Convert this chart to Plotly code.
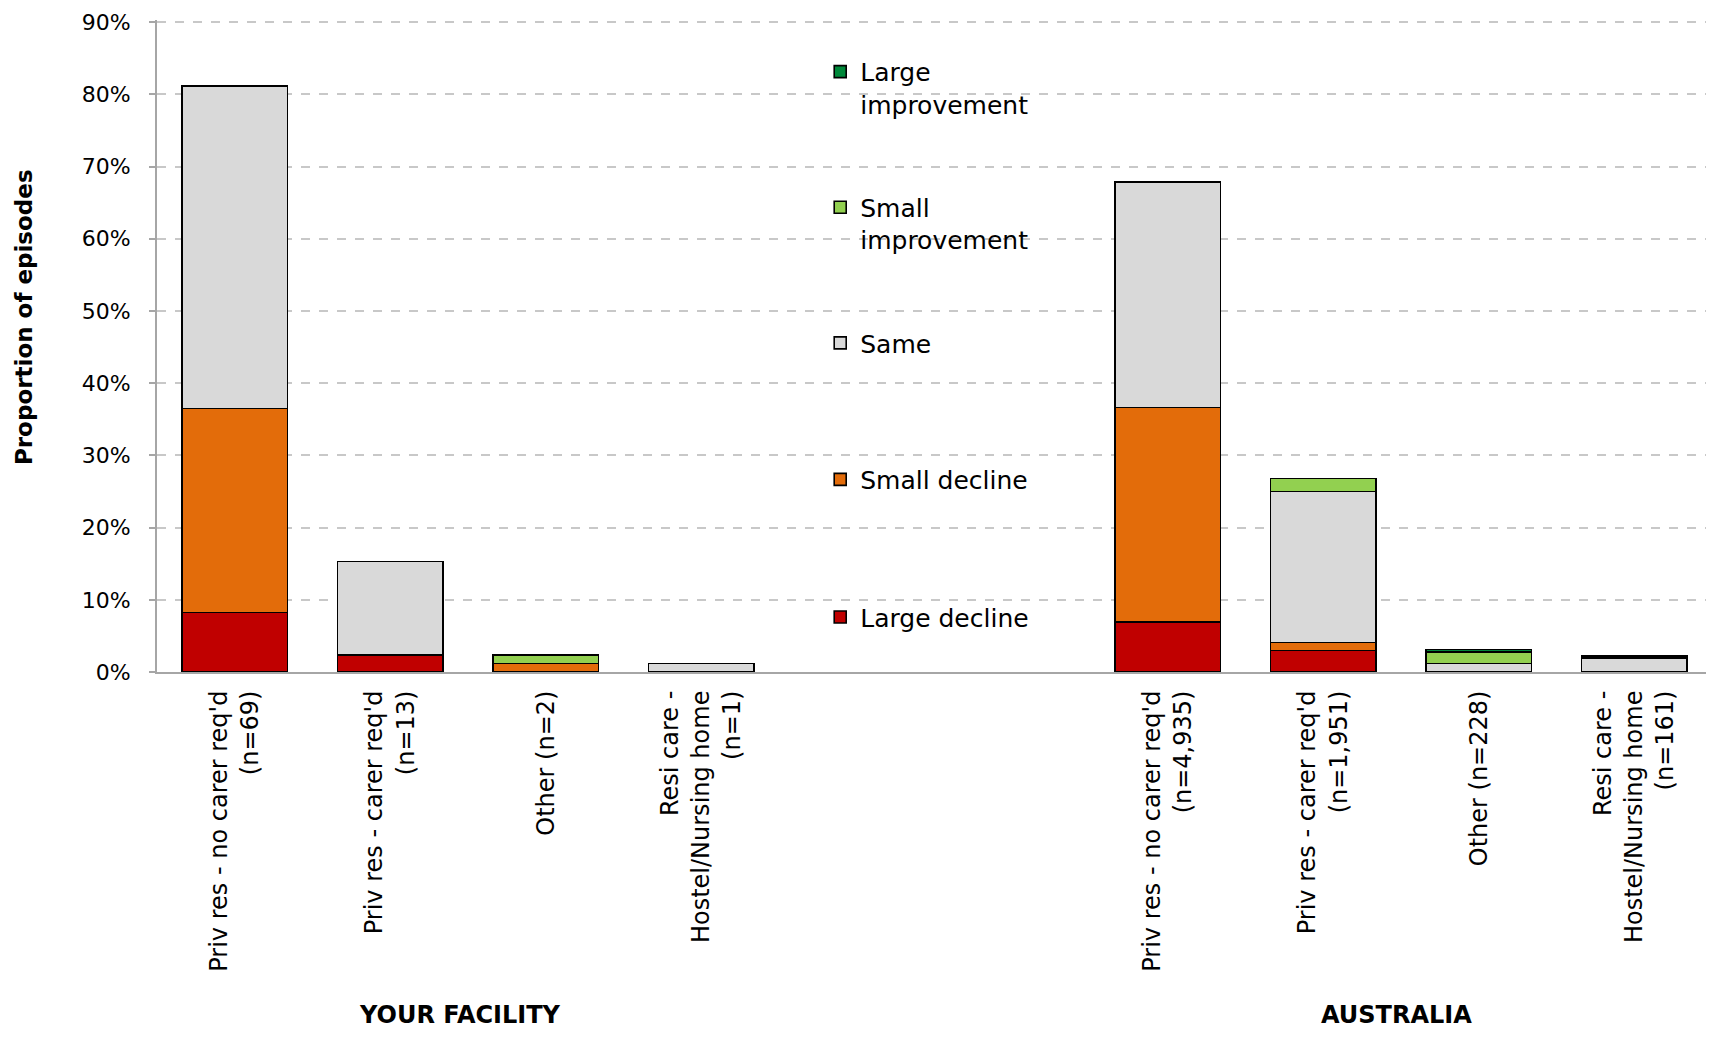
import plotly.graph_objects as go

# ---------------- data ----------------
categories = [
    "Priv res - no carer req'd<br>(n=69)",
    "Priv res - carer req'd<br>(n=13)",
    "Other (n=2)",
    "Resi care -<br>Hostel/Nursing home<br>(n=1)",
    "\u200b",
    "\u200b\u200b",
    "Priv res - no carer req'd<br>(n=4,935)",
    "Priv res - carer req'd<br>(n=1,951)",
    "Other (n=228)",
    "Resi care -<br>Hostel/Nursing home<br>(n=161)",
]
large_decline = [8.24, 2.35, None, None, None, None, 6.94, 3.0, None, None]
small_decline = [28.24, None, 1.18, None, None, None, 29.71, 1.1, None, None]
same = [44.71, 12.94, None, 1.18, None, None, 31.19, 20.9, 1.2, 1.9]
small_improvement = [None, None, 1.18, None, None, None, None, 1.8, 1.6, None]
large_improvement = [None, None, None, None, None, None, None, None, 0.33, 0.3]

series_names = ["Large decline", "Small decline", "Same", "Small<br>improvement", "Large<br>improvement"]
series_values = [large_decline, small_decline, same, small_improvement, large_improvement]
series_colors = ["#C00000", "#E36C0A", "#D9D9D9", "#92D050", "#00883A"]

group_labels = ["YOUR FACILITY", "AUSTRALIA"]
group_positions = [1.45, 7.47]
y_ticks = [0, 10, 20, 30, 40, 50, 60, 70, 80, 90]
y_title = "Proportion of episodes"

# ---------------- figure ----------------
FONT = "DejaVu Sans"
OFF = 8  # page body margin
W, H = 1706, 1022
m_l, m_r, m_t, m_b = 149, 2, 10, 358
plot_h = H - m_t - m_b
plot_w = W - m_l - m_r

fig = go.Figure()
legend_ids = ["legend", "legend2", "legend3", "legend4", "legend5"]
# marker centre y (page px from top) for each legend entry
legend_centers = [619, 481, 344, 208, 72]

for name, vals, col, lid in zip(series_names, series_values, series_colors, legend_ids):
    fig.add_trace(go.Bar(
        x=categories, y=vals, name=name,
        marker=dict(color=col, line=dict(color="black", width=1.6)),
        legend=lid,
        hovertemplate="%{y:.1f}%<extra>" + name.replace("<br>", " ") + "</extra>",
    ))

layout_legends = {}
for lid, cy in zip(legend_ids, legend_centers):
    ytop = cy - OFF - 25
    layout_legends[lid] = dict(
        x=0.4265, xanchor="left",
        y=(H - m_b - ytop) / plot_h, yanchor="top",
        yref="paper", xref="paper",
        bgcolor="rgba(0,0,0,0)",
        font=dict(family=FONT, size=25, color="black"),
        valign="top",
        itemwidth=30,
    )

annotations = []
for lab, xpos in zip(group_labels, group_positions):
    annotations.append(dict(
        text="<b>" + lab + "</b>", x=xpos, xref="x",
        y=(H - m_b - (1016 - OFF)) / plot_h, yref="paper",
        showarrow=False, xanchor="center", yanchor="middle",
        font=dict(family=FONT, size=24, color="black"),
    ))
annotations.append(dict(
    text="<b>" + y_title + "</b>", textangle=-90,
    x=(24 - OFF - m_l) / plot_w, xref="paper", xanchor="center",
    y=(H - m_b - (316 - OFF)) / plot_h, yref="paper", yanchor="middle",
    showarrow=False,
    font=dict(family=FONT, size=23, color="black"),
))

fig.update_layout(
    width=W, height=H,
    margin=dict(l=m_l, r=m_r, t=m_t, b=m_b),
    barmode="stack",
    bargap=0.32,
    plot_bgcolor="white",
    paper_bgcolor="white",
    font=dict(family=FONT, size=22, color="black"),
    showlegend=True,
    annotations=annotations,
    **layout_legends,
)

visible_ticks = [c for c in categories if c.strip("\u200b")]
fig.update_xaxes(
    type="category",
    categoryorder="array", categoryarray=categories,
    tickvals=visible_ticks, ticktext=visible_ticks,
    tickangle=-90,
    showline=True, linecolor="#A6A6A6", linewidth=2,
    ticks="", showgrid=False,
    tickfont=dict(family=FONT, size=24, color="black"),
    ticklabelstandoff=7,
)
fig.update_yaxes(
    range=[0, 90.3],
    tickvals=y_ticks,
    ticktext=[f"{v}%" for v in y_ticks],
    showline=True, linecolor="#A6A6A6", linewidth=2,
    ticks="outside", ticklen=6, tickcolor="#A6A6A6", tickwidth=2,
    ticklabelstandoff=14,
    ticklabeloverflow="allow",
    showgrid=True, gridcolor="#C8C8C8", griddash="dash", gridwidth=1.5,
    zeroline=False,
    tickfont=dict(family=FONT, size=22, color="black"),
)

fig.write_html("out.html")
